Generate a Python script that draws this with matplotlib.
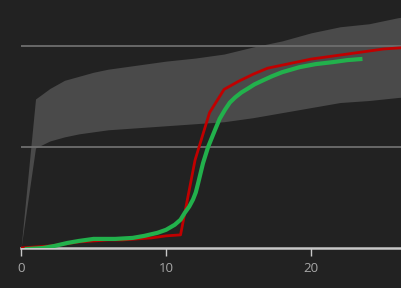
import matplotlib
matplotlib.use('Agg')
import matplotlib.pyplot as plt

# band (range) read at integer x
band_x = [0, 1, 2, 3, 4, 5, 6, 8, 10, 12, 14, 16, 18, 20, 22, 24, 26, 27]
band_low = [0, 0.99, 1.06, 1.10, 1.13, 1.15, 1.17, 1.19, 1.21, 1.23, 1.25, 1.29, 1.34, 1.39, 1.44, 1.46, 1.49, 1.50]
band_high = [0, 1.475, 1.58, 1.66, 1.70, 1.74, 1.77, 1.81, 1.85, 1.88, 1.92, 1.99, 2.05, 2.13, 2.19, 2.22, 2.28, 2.30]

# red series
red_x = list(range(0, 28))
red_y = [0, 0.01, 0.02, 0.04, 0.06, 0.07, 0.08, 0.08, 0.09, 0.10, 0.12, 0.13,
         0.87, 1.34, 1.57, 1.65, 1.72, 1.78, 1.81, 1.84, 1.87, 1.89, 1.91, 1.93,
         1.95, 1.97, 1.98, 1.99]

# green series
green_x = [0.4, 1.5, 2.3, 3.2, 4.0, 5.0, 6.5, 7.7, 8.5, 9.4, 10.0, 10.6, 11.0, 11.3,
           11.6, 11.86, 12.05, 12.21, 12.55, 12.9, 13.38, 13.7, 14.07, 14.4, 14.76,
           15.2, 15.66, 16.1, 16.69, 17.3, 18.0, 19.2, 20.3, 21.5, 22.5, 23.4]
green_y = [-0.01, 0.0, 0.02, 0.05, 0.07, 0.09, 0.09, 0.10, 0.12, 0.15, 0.18, 0.23,
           0.28, 0.35, 0.41, 0.48, 0.55, 0.64, 0.84, 1.00, 1.17, 1.28, 1.37, 1.44,
           1.49, 1.54, 1.58, 1.62, 1.66, 1.70, 1.74, 1.79, 1.82, 1.84, 1.86, 1.87]

fig = plt.figure(figsize=(4.01, 2.88), dpi=100, facecolor='#222222')
ax = fig.add_axes([21 / 401, 40 / 288, 380 / 401, 248 / 288])
ax.set_facecolor('#222222')

ax.fill_between(band_x, band_low, band_high, color='#4a4a4a', linewidth=0, zorder=1)
for g in [1, 2]:
    ax.axhline(g, color='#6e6e6e', linewidth=1.3, zorder=2)

ax.plot(red_x, red_y, color='#c00000', linewidth=2.0, zorder=3)
ax.plot(green_x, green_y, color='#22b14c', linewidth=3.0, zorder=4)

ax.set_xlim(0, 26.2)
ax.set_ylim(0, 2.455)
ax.set_xticks([0, 10, 20])
ax.set_yticks([])
for s in ['top', 'right', 'left']:
    ax.spines[s].set_visible(False)
ax.spines['bottom'].set_color('#c8c8c8')
ax.spines['bottom'].set_linewidth(1.8)
ax.tick_params(axis='x', colors='#c8c8c8', length=6, width=1, pad=4, labelsize=9.5,
               labelcolor='#a8a8a8')
for lab in ax.get_xticklabels():
    lab.set_family(['Open Sans', 'DejaVu Sans'])

fig.savefig('out.png', dpi=100, facecolor='#222222')
